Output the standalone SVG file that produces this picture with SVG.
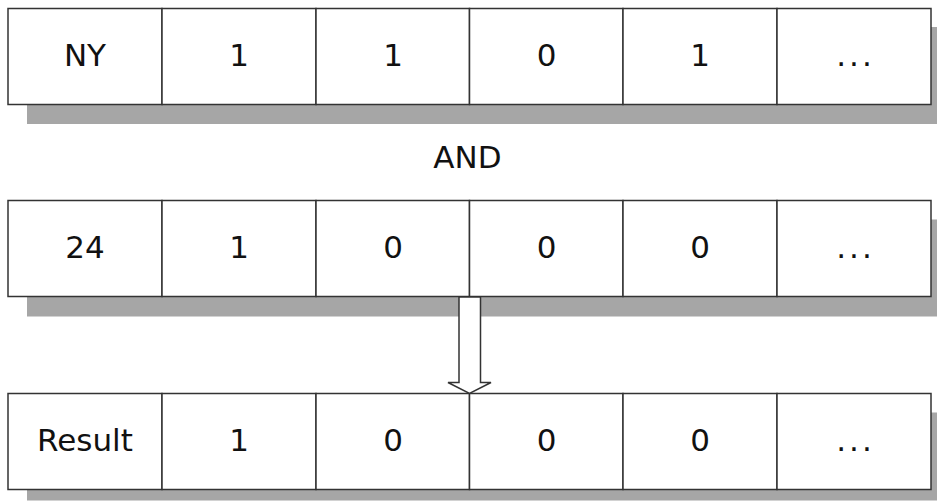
<svg xmlns="http://www.w3.org/2000/svg" width="937" height="502" viewBox="0 0 937 502">
<style>
.shadow{fill:#a6a6a6}
.cell{fill:#ffffff;stroke:#333333;stroke-width:1.5}
.t{font-family:"DejaVu Sans","Liberation Sans",sans-serif;font-size:31px;fill:#111111;text-anchor:middle}
.dots{letter-spacing:3px}
.arrow{fill:#ffffff;stroke:#333333;stroke-width:1.5}
</style>
<rect width="937" height="502" fill="#ffffff"/>
<g id="row1">
<rect class="shadow" x="27" y="27" width="923" height="97"/>
<g id="row1-c0"><rect class="cell" x="8" y="8.5" width="154" height="96"/><text class="t" x="85" y="65.5">NY</text></g>
<g id="row1-c1"><rect class="cell" x="162" y="8.5" width="154" height="96"/><text class="t" x="239" y="65.5">1</text></g>
<g id="row1-c2"><rect class="cell" x="316" y="8.5" width="153.5" height="96"/><text class="t" x="393" y="65.5">1</text></g>
<g id="row1-c3"><rect class="cell" x="469.5" y="8.5" width="153.5" height="96"/><text class="t" x="546.5" y="65.5">0</text></g>
<g id="row1-c4"><rect class="cell" x="623" y="8.5" width="154" height="96"/><text class="t" x="700" y="65.5">1</text></g>
<g id="row1-c5"><rect class="cell" x="777" y="8.5" width="154" height="96"/><text class="t dots" x="855.5" y="65.5">...</text></g>
</g>
<g id="and-label"><text class="t" x="467.5" y="168.3">AND</text></g>
<g id="row2">
<rect class="shadow" x="27" y="219.5" width="923" height="97"/>
<g id="row2-c0"><rect class="cell" x="8" y="200.5" width="154" height="96"/><text class="t" x="85" y="257.5">24</text></g>
<g id="row2-c1"><rect class="cell" x="162" y="200.5" width="154" height="96"/><text class="t" x="239" y="257.5">1</text></g>
<g id="row2-c2"><rect class="cell" x="316" y="200.5" width="153.5" height="96"/><text class="t" x="393" y="257.5">0</text></g>
<g id="row2-c3"><rect class="cell" x="469.5" y="200.5" width="153.5" height="96"/><text class="t" x="546.5" y="257.5">0</text></g>
<g id="row2-c4"><rect class="cell" x="623" y="200.5" width="154" height="96"/><text class="t" x="700" y="257.5">0</text></g>
<g id="row2-c5"><rect class="cell" x="777" y="200.5" width="154" height="96"/><text class="t dots" x="855.5" y="257.5">...</text></g>
</g>
<g id="row3">
<rect class="shadow" x="27" y="412.5" width="923" height="88"/>
<g id="row3-c0"><rect class="cell" x="8" y="393.5" width="154" height="96"/><text class="t" x="85" y="450.5">Result</text></g>
<g id="row3-c1"><rect class="cell" x="162" y="393.5" width="154" height="96"/><text class="t" x="239" y="450.5">1</text></g>
<g id="row3-c2"><rect class="cell" x="316" y="393.5" width="153.5" height="96"/><text class="t" x="393" y="450.5">0</text></g>
<g id="row3-c3"><rect class="cell" x="469.5" y="393.5" width="153.5" height="96"/><text class="t" x="546.5" y="450.5">0</text></g>
<g id="row3-c4"><rect class="cell" x="623" y="393.5" width="154" height="96"/><text class="t" x="700" y="450.5">0</text></g>
<g id="row3-c5"><rect class="cell" x="777" y="393.5" width="154" height="96"/><text class="t dots" x="855.5" y="450.5">...</text></g>
</g>
<g id="connectors">
<path class="arrow" d="M459 297 L480.5 297 L480.5 382.5 L491 382.5 L469.5 393.5 L448 382.5 L459 382.5 Z"/>
</g>
</svg>
